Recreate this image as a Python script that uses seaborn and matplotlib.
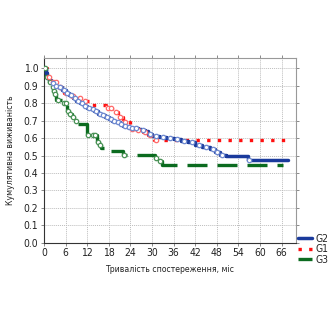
import matplotlib
matplotlib.use("Agg")
import matplotlib.pyplot as plt
import seaborn as sns
import pandas as pd
import numpy as np
from matplotlib.lines import Line2D

# ---- data ----
g2_t = [0, 0.5, 1, 1.5, 2, 3, 4, 5, 6, 7, 8, 9, 10, 11, 12, 13, 14, 15, 16, 17, 18, 19, 20, 21,
        22, 23, 24, 25, 26, 27, 28, 29, 30, 32, 34, 36, 38, 40, 42, 44, 46, 47.5, 49, 50.5, 56.7, 67.8]
g2_s = [1.0, 0.97, 0.95, 0.93, 0.915, 0.90, 0.89, 0.875, 0.86, 0.845, 0.83, 0.815, 0.80, 0.785,
        0.775, 0.765, 0.755, 0.74, 0.73, 0.72, 0.71, 0.70, 0.69, 0.68, 0.67, 0.665, 0.66, 0.655,
        0.65, 0.645, 0.64, 0.625, 0.61, 0.605, 0.60, 0.595, 0.585, 0.575, 0.56, 0.55, 0.535, 0.52,
        0.505, 0.50, 0.475, 0.475]
g2_ct = [2.5, 3.5, 4.5, 5.5, 6.5, 7.5, 8.5, 9.5, 10.5, 11.5, 12.5, 13.5, 14.5, 15.5, 16.5, 17.5,
         18.5, 19.5, 20.5, 21.5, 22.5, 23.5, 24.5, 25.5, 27.5, 29.5, 31, 33, 35, 37, 39, 41, 43, 45,
         47, 48, 49.5, 57]
g1_t = [0, 1, 2, 4, 5.5, 7, 9.5, 11, 13, 17.3, 19, 20.5, 22, 24, 25.5, 27.5, 29, 30.5, 67.5]
g1_s = [1.0, 0.95, 0.92, 0.89, 0.86, 0.84, 0.83, 0.81, 0.79, 0.77, 0.75, 0.72, 0.69, 0.65,
        0.645, 0.635, 0.615, 0.59, 0.59]
g1_ct = [1.5, 2.5, 3.5, 4.5, 6, 8, 10, 11.5, 17.8, 18.5, 20, 21, 22.5, 24.5, 26, 28, 29.5, 31]
g3_t = [0, 0.7, 1.4, 2.1, 2.6, 3.0, 3.5, 4.9, 6.3, 7.0, 7.7, 8.4, 9.1, 12, 14.8, 15.3, 15.8,
        17.4, 18.3, 22, 30.8, 32, 32.7, 66.5]
g3_s = [1.0, 0.95, 0.92, 0.89, 0.87, 0.85, 0.82, 0.80, 0.755, 0.74, 0.72, 0.70, 0.68, 0.615,
        0.58, 0.56, 0.545, 0.545, 0.525, 0.505, 0.485, 0.47, 0.445, 0.445]
g3_ct = [0.4, 1.0, 1.8, 2.4, 2.8, 3.2, 4.0, 5.5, 6.0, 6.7, 7.3, 8.0, 8.8, 12.3, 13.5, 14.2,
         15.0, 15.6, 22.2, 31.2, 32.3]

groups = ["G2", "G1", "G3"]
tick_x = list(range(0, 67, 6))
tick_y = [i / 10 for i in range(11)]


def step_val(ts, ss, c):
    v = ss[0]
    for t, s in zip(ts, ss):
        if t <= c:
            v = s
    return v


sns.set_theme(style="white")
plt.rcParams["font.family"] = ["Liberation Sans Narrow", "DejaVu Sans"]
plt.rcParams["font.stretch"] = "condensed"

fig = plt.figure(figsize=(3.3, 3.3), dpi=100)
ax = fig.add_axes([0.133, 0.264, 0.764, 0.560])

styles = {
    "G2": dict(color="#1a3a9c", ls="-", lw=2.5, mc="#6f8ad0"),
    "G1": dict(color="#ff1010", ls=(0, (1, 2.2)), lw=2.4, mc="#ff6a6a"),
    "G3": dict(color="#0b6b1f", ls=(0, (6.0, 3.0)), lw=2.4, mc="#4a9256"),
}
data = {"G2": (g2_t, g2_s, g2_ct), "G1": (g1_t, g1_s, g1_ct), "G3": (g3_t, g3_s, g3_ct)}

for g in ["G3", "G1", "G2"]:
    ts, ss, cts = data[g]
    st = styles[g]
    df = pd.DataFrame({"t": ts, "s": ss})
    sns.lineplot(data=df, x="t", y="s", ax=ax, estimator=None, sort=False,
                 drawstyle="steps-post", color=st["color"], linestyle=st["ls"],
                 linewidth=st["lw"], zorder=3)
    cdf = pd.DataFrame({"t": cts, "s": [step_val(ts, ss, c) for c in cts]})
    sns.scatterplot(data=cdf, x="t", y="s", ax=ax, marker="o", s=10,
                    facecolor="white", edgecolor=st["mc"], linewidth=0.9, zorder=4)

ax.set_xlim(0, 70)
ax.set_ylim(0, 1.058)
ax.set_xticks(tick_x)
ax.set_yticks(tick_y)
ax.set_xticklabels([str(v) for v in tick_x], fontsize=7.5)
ax.set_yticklabels([f"{v:.1f}" for v in tick_y], fontsize=7.5)
ax.grid(True, color="#bdbdbd", linestyle=(0, (1, 1)), linewidth=0.7)
ax.set_axisbelow(True)
for sp in ax.spines.values():
    sp.set_color("#999999")
    sp.set_linewidth(0.8)
ax.spines["left"].set_color("#333333")
ax.spines["bottom"].set_color("#333333")
ax.tick_params(axis="both", which="both", length=2, width=0.6, color="#777777",
               pad=2, labelcolor="#222222", direction="out",
               top=True, right=True, bottom=True, left=True)
ax.set_xlabel("Тривалість спостереження, міс", fontsize=6.2, labelpad=5, color="#222222")
ax.set_ylabel("Кумулятивна виживаність", fontsize=6.2, labelpad=6, color="#222222")

handles = [Line2D([0], [0], color=styles[g]["color"], linestyle=styles[g]["ls"],
                  linewidth=styles[g]["lw"]) for g in groups]
fig.legend(handles, groups, loc="upper left", bbox_to_anchor=(0.9, 0.295),
           frameon=False, fontsize=7.5, handlelength=1.3, handletextpad=0.35,
           labelspacing=0.05, borderpad=0.1, borderaxespad=0)

fig.savefig("out.png", dpi=100)
